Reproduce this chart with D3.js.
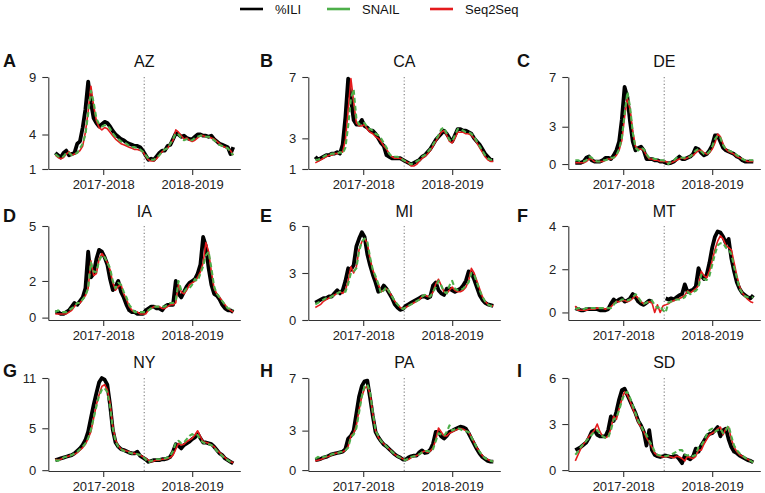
<!DOCTYPE html>
<html>
<head>
<meta charset="utf-8">
<script src="https://cdn.jsdelivr.net/npm/d3@7"></script>
<style>
  body { margin: 0; background: #fff; }
  svg { font-family: "Liberation Sans", Arial, sans-serif; }
  .tick text { font-size: 13px; fill: #222; }
  .tick line, .domain { stroke: #333; stroke-width: 1.1; }
</style>
</head>
<body>
<svg id="chart" width="765" height="493"></svg>
<script>
// states shown, panel letters and y ticks
const states = ["AZ", "CA", "DE", "IA", "MI", "MT", "NY", "PA", "SD"];
const panelLetters = ["A", "B", "C", "D", "E", "F", "G", "H", "I"];
const yTicks = [[1, 4, 9], [1, 3, 7], [0, 3, 7], [0, 2, 5], [0, 3, 6], [0, 2, 4], [0, 5, 11], [0, 3, 7], [0, 3, 6]];
const yLow = [1, 1, -0.4, -0.13, 0, -0.35, -0.1, -0.07, -0.06];
const seasonLabels = ["2017-2018", "2018-2019"];
const seasonTickPos = [17.5, 50];
const seasonSplit = 32.5;
const seriesNames = ["%ILI", "SNAIL", "Seq2Seq"];

// weekly %ILI, week 40 of 2017 onward (33 weeks per season)
const ili = [
  [2.4,2.2,2.0,2.4,2.6,2.2,2.3,2.4,3.2,3.4, 4.6,6.2,8.6,6.8,5.4,5.0,4.7,4.9,5.1,5.0,
   4.7,4.3,4.0,3.8,3.6,3.5,3.3,3.2,3.1,3.0, 3.0,2.9,2.6,2.2,1.8,1.9,1.8,2.1,2.4,2.6,
   2.6,3.0,3.1,3.6,4.1,4.0,3.8,3.9,3.7,3.6, 3.6,3.8,4.0,4.0,3.9,3.9,3.8,3.9,3.6,3.4,
   3.2,3.1,3.0,2.9,2.3,2.9],
  [1.8,1.6,1.7,1.8,1.9,1.9,2.0,2.0,2.1,2.0, 2.6,4.4,6.9,5.6,4.2,3.9,3.9,4.2,3.8,3.7,
   3.5,3.5,3.3,3.0,2.7,2.5,1.9,1.8,1.7,1.7, 1.7,1.7,1.6,1.5,1.4,1.3,1.4,1.5,1.6,1.8,
   1.9,2.1,2.3,2.6,2.9,3.1,3.3,3.5,3.3,3.0, 2.8,3.2,3.6,3.6,3.5,3.5,3.4,3.3,3.0,2.8,
   2.6,2.3,2.0,1.8,1.6,1.6],
  [0.1,0.1,0.1,0.2,0.5,0.6,0.3,0.2,0.2,0.2, 0.3,0.5,0.5,0.4,0.7,1.1,1.8,3.6,6.2,5.4,
   3.4,1.8,1.1,1.3,1.4,1.1,0.4,0.4,0.4,0.3, 0.3,0.2,0.2,0.1,0.05,0.1,0.2,0.4,0.6,0.4,
   0.4,0.5,0.6,0.8,1.3,1.2,0.9,0.7,0.8,1.1, 1.5,2.3,2.3,1.8,1.3,1.1,1.0,0.9,0.8,0.6,
   0.5,0.3,0.2,0.2,0.2,0.2],
  [0.3,0.3,0.2,0.2,0.3,0.4,0.6,0.8,0.7,0.9, 1.1,1.6,3.6,2.2,2.4,3.2,3.7,3.6,3.3,2.9,
   2.1,1.5,1.7,2.0,1.4,1.1,0.7,0.4,0.3,0.3, 0.2,0.2,0.2,0.4,0.5,0.6,0.6,0.5,0.5,0.4,
   0.6,0.7,0.7,0.7,2.0,1.3,1.1,1.4,1.7,1.9, 2.0,2.1,2.4,2.9,4.4,3.9,2.7,1.8,1.3,1.2,
   1.0,0.7,0.5,0.4,0.4,0.3],
  [1.1,1.2,1.3,1.4,1.4,1.5,1.5,1.7,1.9,1.7, 1.9,2.5,3.3,3.2,3.5,4.7,5.2,5.6,5.3,4.2,
   3.5,2.9,2.4,1.8,1.9,2.2,2.0,1.7,1.4,1.0, 0.8,0.65,0.7,0.9,1.0,1.1,1.2,1.3,1.4,1.5,
   1.5,1.4,1.5,2.2,2.4,1.9,1.7,1.6,2.0,2.0, 1.9,1.8,1.9,2.0,2.2,2.5,3.1,3.0,2.6,2.1,
   1.6,1.3,1.1,1.0,0.95,0.9],
  [0.2,0.15,0.1,0.1,0.15,0.15,0.15,0.15,0.15,0.1, 0.1,0.1,0.15,0.4,0.6,0.5,0.6,0.65,0.5,0.55,
   0.65,0.85,0.7,0.5,0.4,0.35,0.45,0.55,0.5,null, null,null,null,0.65,0.6,0.65,0.6,0.7,0.8,0.85,
   1.3,0.95,1.0,1.05,1.2,2.05,1.7,1.55,1.75,2.3, 3.0,3.5,3.75,3.7,3.5,3.2,3.4,2.5,1.9,1.4,
   1.1,0.9,0.8,0.7,0.65,0.8],
  [1.2,1.3,1.4,1.5,1.6,1.7,1.8,2.0,2.3,2.6, 3.0,3.6,4.6,6.2,7.8,9.2,10.5,11.0,10.8,10.2,
   7.8,4.8,3.3,2.8,2.5,2.4,2.25,2.1,2.0,2.0, 2.2,1.7,1.5,1.3,1.0,1.1,1.2,1.2,1.2,1.3,
   1.3,1.4,1.6,2.2,3.1,2.9,2.6,3.0,3.2,3.4, 3.7,3.9,4.4,3.8,3.3,3.3,3.2,3.1,2.8,2.4,
   2.0,1.8,1.4,1.2,1.0,0.8],
  [0.75,0.8,0.85,0.95,1.0,1.1,1.2,1.25,1.3,1.35, 1.4,1.6,2.4,2.6,3.0,4.3,5.6,6.4,6.75,6.8,
   5.5,4.1,2.9,2.5,2.2,1.95,1.8,1.6,1.4,1.2, 1.05,0.95,0.8,0.8,0.95,1.05,1.1,1.1,1.35,1.5,
   1.3,1.35,1.55,2.0,2.9,2.9,2.55,2.4,2.6,2.9, 3.0,3.1,3.2,3.3,3.25,3.15,2.8,2.4,2.0,1.6,
   1.25,1.0,0.85,0.7,0.65,0.65],
  [1.3,1.4,1.5,1.65,1.8,2.1,2.5,2.6,2.3,2.2, 2.2,2.2,2.6,3.5,3.2,3.8,4.6,5.2,5.3,4.9,
   4.5,4.1,3.7,3.2,2.9,2.5,1.6,2.6,1.3,1.0, 0.9,0.85,0.9,0.95,0.9,0.85,0.9,0.9,0.7,0.45,
   0.95,0.8,0.7,0.9,1.4,1.2,1.6,1.9,2.2,2.35, 2.4,2.6,2.8,2.2,2.6,2.7,2.0,1.5,1.2,1.1,
   0.95,0.85,0.75,0.65,0.6,0.5]
];

// SNAIL forecasts
const snail = [
  [2.3,2.1,2.0,2.1,2.4,2.4,2.2,2.3,2.4,2.8, 3.2,4.0,5.8,7.8,6.8,5.4,4.9,4.7,4.8,4.8,
   4.5,4.1,3.8,3.6,3.4,3.3,3.2,3.0,2.9,2.9, 2.8,2.7,2.5,2.2,1.9,1.8,1.8,2.0,2.2,2.5,
   2.7,2.8,3.2,3.6,4.1,4.0,3.7,3.5,3.6,3.5, 3.5,3.7,3.8,3.9,3.9,3.8,3.8,3.7,3.5,3.3,
   3.1,3.0,2.9,2.8,2.5,2.2],
  [1.6,1.6,1.7,1.8,1.9,1.9,2.0,2.0,2.0,2.1, 2.0,2.4,3.8,5.6,6.2,4.3,3.9,4.0,4.0,3.7,
   3.6,3.5,3.3,3.2,3.0,2.7,2.4,2.0,1.8,1.8, 1.8,1.7,1.6,1.5,1.4,1.3,1.4,1.5,1.6,1.8,
   1.9,2.1,2.3,2.6,2.9,3.2,3.6,3.7,3.3,2.9, 2.8,3.2,3.6,3.6,3.5,3.4,3.4,3.3,3.1,2.8,
   2.5,2.2,1.9,1.7,1.6,1.6],
  [0.3,0.3,0.2,0.2,0.3,0.6,0.5,0.3,0.2,0.2, 0.3,0.3,0.4,0.5,0.5,0.7,1.2,2.1,4.0,5.8,
   4.6,2.5,1.3,1.1,1.3,1.2,0.8,0.5,0.5,0.4, 0.4,0.3,0.3,0.2,0.0,0.2,0.3,0.5,0.5,0.5,
   0.5,0.5,0.6,0.8,1.1,1.2,1.0,0.8,0.8,1.0, 1.4,2.0,2.3,2.1,1.5,1.2,1.1,1.0,0.9,0.7,
   0.6,0.4,0.3,0.3,0.3,0.3],
  [0.3,0.4,0.3,0.3,0.3,0.4,0.5,0.6,0.8,0.8, 1.0,1.2,1.6,3.0,2.5,2.5,3.1,3.4,3.3,3.0,
   2.7,2.0,1.6,1.9,1.8,1.4,1.1,0.7,0.5,0.3, 0.3,0.3,0.3,0.3,0.4,0.5,0.6,0.6,0.6,0.6,
   0.6,0.7,0.8,0.8,0.9,2.0,1.5,1.4,1.6,1.6, 1.8,2.1,2.0,2.4,2.8,3.4,3.6,2.7,1.7,1.3,
   1.1,0.9,0.7,0.5,0.5,0.4],
  [1.0,1.1,1.2,1.3,1.4,1.4,1.5,1.6,1.7,1.8, 1.8,1.8,2.3,3.0,3.1,3.3,4.4,5.0,5.2,5.0,
   4.0,3.2,2.8,2.3,1.7,1.9,2.1,1.8,1.5,1.2, 1.0,0.8,0.7,0.8,0.9,1.0,1.1,1.2,1.3,1.5,
   1.6,1.5,1.5,1.8,2.1,2.5,2.2,1.8,1.7,2.2, 2.5,2.0,1.9,1.9,2.0,2.2,2.4,3.0,2.9,2.4,
   1.9,1.5,1.2,1.0,0.9,0.9],
  [0.15,0.2,0.2,0.15,0.2,0.2,0.2,0.2,0.2,0.2, 0.2,0.2,0.2,0.2,0.35,0.5,0.5,0.6,0.6,0.55,
   0.6,0.7,0.85,0.7,0.5,0.4,0.45,0.55,0.55,0.35, 0.2,0.3,0.1,0.0,0.45,0.5,0.55,0.6,0.6,0.65,
   0.7,0.95,0.85,0.95,1.0,1.15,1.75,1.55,1.5,1.7, 2.2,2.7,3.1,3.2,3.2,3.0,2.9,2.7,2.1,1.6,
   1.1,0.9,0.75,0.7,0.7,0.7],
  [1.2,1.1,1.3,1.5,1.6,1.7,1.8,2.0,2.2,2.5, 2.8,3.2,3.8,4.8,6.2,7.6,8.9,9.6,9.8,9.3,
   7.6,5.0,3.4,2.8,2.5,2.3,2.2,2.1,2.0,2.0, 1.9,1.8,1.6,1.3,0.9,1.1,1.2,1.3,1.3,1.3,
   1.4,1.5,1.7,2.3,3.3,3.5,3.2,3.3,3.7,4.1, 4.3,4.1,4.2,3.6,3.3,3.2,3.1,3.0,2.7,2.3,
   2.0,1.7,1.4,1.2,1.0,0.9],
  [0.85,1.0,0.9,1.0,1.05,1.1,1.2,1.25,1.3,1.35, 1.4,1.5,1.7,2.5,2.7,3.2,4.4,5.6,6.4,6.5,
   5.9,4.4,3.0,2.6,2.2,2.0,1.8,1.6,1.4,1.2, 1.05,0.95,0.85,0.75,0.9,1.0,1.05,1.1,1.2,1.35,
   1.45,1.45,1.4,1.6,2.2,2.8,2.7,2.6,2.9,3.4, 3.0,3.1,3.2,3.1,3.0,2.95,2.9,2.5,2.1,1.7,
   1.4,1.1,0.9,0.8,0.7,0.65],
  [1.0,1.2,1.5,1.7,1.9,2.1,2.3,2.5,2.6,2.4, 2.2,2.1,2.1,2.6,3.3,3.4,3.9,4.5,5.0,5.1,
   4.7,4.2,3.7,3.2,2.9,2.5,2.3,1.9,1.6,1.2, 1.0,0.95,0.9,0.9,0.95,1.0,1.1,1.2,1.3,1.3,
   1.0,0.95,1.0,0.9,1.0,1.5,1.6,1.9,2.3,2.6, 2.7,2.5,2.6,2.7,2.4,2.6,2.9,2.2,1.6,1.3,
   1.1,0.95,0.8,0.7,0.6,0.5]
];

// Seq2Seq forecasts
const seq2seq = [
  [2.2,2.0,1.9,2.0,2.3,2.5,2.2,2.3,2.4,2.6, 3.0,4.2,6.0,8.2,6.5,5.2,4.6,4.4,4.6,4.5,
   4.2,3.9,3.6,3.4,3.2,3.1,3.0,2.9,2.8,2.7, 2.7,2.6,2.5,2.1,1.8,1.7,1.7,1.9,2.2,2.5,
   2.7,2.8,3.2,3.5,4.4,4.2,3.9,3.6,3.7,3.5, 3.4,3.5,3.7,3.9,3.9,3.8,3.8,3.7,3.6,3.4,
   3.2,3.0,2.9,2.8,2.6,2.2],
  [1.4,1.5,1.6,1.7,1.8,1.9,1.9,2.0,2.0,2.1, 2.1,2.9,4.8,6.9,5.4,4.0,3.8,3.8,3.9,3.6,
   3.4,3.3,3.1,3.0,2.8,2.5,2.3,2.0,1.8,1.7, 1.7,1.7,1.6,1.5,1.4,1.2,1.2,1.3,1.5,1.7,
   1.8,2.0,2.2,2.5,2.8,3.1,3.4,3.5,3.2,2.8, 2.7,3.0,3.4,3.4,3.4,3.3,3.3,3.2,3.0,2.7,
   2.4,2.1,1.8,1.6,1.5,1.5],
  [0.1,0.1,0.1,0.1,0.2,0.4,0.4,0.2,0.2,0.2, 0.2,0.3,0.4,0.4,0.5,0.7,1.1,1.9,3.8,5.3,
   4.4,2.6,1.4,1.2,1.2,1.1,0.7,0.4,0.4,0.3, 0.3,0.2,0.2,0.2,0.1,0.1,0.2,0.3,0.4,0.5,
   0.4,0.5,0.6,0.7,0.9,1.1,1.1,0.9,0.8,0.9, 1.2,1.7,2.4,2.2,1.6,1.2,1.0,0.9,0.8,0.6,
   0.5,0.4,0.3,0.2,0.2,0.2],
  [0.2,0.2,0.2,0.2,0.2,0.3,0.4,0.6,0.8,0.8, 1.0,1.2,1.6,3.1,2.3,2.4,3.2,3.5,3.3,3.0,
   2.6,1.9,1.5,1.7,1.8,1.3,1.0,0.6,0.4,0.3, 0.3,0.2,0.2,0.2,0.4,0.5,0.6,0.6,0.6,0.5,
   0.5,0.6,0.7,0.7,0.8,1.8,1.4,1.3,1.5,1.8, 1.9,2.0,2.2,2.5,3.0,4.1,3.6,2.5,1.6,1.3,
   1.1,0.9,0.7,0.5,0.4,0.3],
  [0.8,0.9,1.0,1.2,1.3,1.4,1.5,1.6,1.7,1.8, 1.7,1.9,2.5,3.4,3.0,3.4,4.5,5.0,5.2,4.9,
   3.9,3.2,2.7,2.3,1.8,1.9,2.0,1.8,1.5,1.2, 1.0,0.8,0.7,0.8,0.9,1.0,1.1,1.2,1.3,1.5,
   1.6,1.5,1.5,1.8,2.3,2.6,2.2,1.8,1.7,1.9, 2.1,1.9,1.8,1.8,1.9,2.1,2.5,3.3,3.0,2.5,
   2.0,1.5,1.2,1.0,0.9,0.9],
  [0.3,0.1,0.1,0.1,0.1,0.15,0.15,0.15,0.2,0.2, 0.2,0.15,0.2,0.25,0.4,0.5,0.5,0.55,0.55,0.5,
   0.55,0.65,0.8,0.65,0.5,0.4,0.45,0.5,0.45,0.0, 0.35,0.0,0.3,0.35,0.4,0.5,0.55,0.6,0.65,0.7,
   0.8,1.0,0.9,1.0,1.1,1.25,1.9,1.7,1.6,1.9, 2.4,2.9,3.3,3.55,3.4,3.1,3.0,2.9,2.3,1.7,
   1.2,0.9,0.75,0.6,0.5,0.45],
  [1.3,1.2,1.3,1.5,1.6,1.7,1.8,1.9,2.1,2.4, 2.7,3.1,3.8,4.6,6.2,7.8,9.0,10.0,10.2,9.6,
   8.0,5.2,3.6,2.9,2.5,2.4,2.3,2.2,2.0,2.0, 1.9,1.8,1.6,1.4,1.2,1.0,1.1,1.2,1.2,1.3,
   1.3,1.4,1.5,1.8,2.5,3.2,3.0,3.1,3.4,3.6, 3.8,4.2,4.7,4.0,3.4,3.3,3.2,3.0,2.8,2.4,
   2.1,1.8,1.5,1.2,1.0,0.9],
  [0.7,0.75,0.8,0.9,1.0,1.05,1.15,1.25,1.3,1.35, 1.4,1.5,1.8,2.6,2.8,3.4,4.6,5.6,6.2,6.4,
   5.8,4.3,3.0,2.5,2.2,2.0,1.8,1.6,1.4,1.2, 1.05,0.95,0.85,0.75,0.8,0.95,1.05,1.1,1.2,1.35,
   1.45,1.35,1.45,1.7,2.3,3.2,2.9,2.6,2.6,2.8, 2.9,3.0,3.1,3.15,3.1,3.0,2.9,2.5,2.1,1.7,
   1.4,1.1,0.9,0.8,0.7,0.65],
  [0.6,1.0,1.4,1.7,1.9,2.2,2.4,2.6,3.0,2.5, 2.2,2.1,2.2,2.7,3.5,3.3,4.0,4.6,5.1,4.9,
   4.5,4.0,3.6,3.1,2.8,2.5,2.1,1.8,1.5,1.1, 0.95,0.9,0.85,0.85,0.9,0.85,0.8,0.9,0.85,0.75,
   0.6,0.9,0.8,0.75,0.9,1.3,1.3,1.7,2.0,2.3, 2.4,2.5,2.7,2.8,2.3,2.7,2.8,2.0,1.5,1.2,
   1.0,0.9,0.8,0.7,0.6,0.5]
];

const svg = d3.select("#chart");

// layout of the 3x3 grid
const colX = [48.3, 308.3, 568.3];
const rowTop = [77, 226, 378];
const rowBottom = [169, 320, 471];
const letterY = [67, 222, 377];
const titleY = [66.5, 216.5, 368];
const plotW = 192;

const series = [
  { name: seriesNames[0], data: ili, color: "#000", width: 3.8, dash: null },
  { name: seriesNames[2], data: seq2seq, color: "#e41a1c", width: 1.6, dash: null },
  { name: seriesNames[1], data: snail, color: "#4daf4a", width: 2.1, dash: "5,3" }
];

states.forEach(function(st, i) {
  const col = i % 3, row = Math.floor(i / 3);
  const x0 = colX[col], top = rowTop[row], bottom = rowBottom[row];
  const x = d3.scaleLinear().domain([-2.56, 67.57]).range([x0, x0 + plotW]);
  const y = d3.scaleLinear().domain([yLow[i], yTicks[i][2]]).range([bottom, top]);
  const g = svg.append("g");

  // season divider
  g.append("line")
    .attr("x1", x(seasonSplit)).attr("x2", x(seasonSplit))
    .attr("y1", top).attr("y2", bottom)
    .attr("stroke", "#999").attr("stroke-width", 1.4)
    .attr("stroke-dasharray", "1.2,2.2");

  const line = d3.line()
    .defined(d => d != null)
    .x((d, k) => x(k))
    .y(d => y(d));

  series.forEach(function(s) {
    g.append("path")
      .datum(s.data[i])
      .attr("d", line)
      .attr("fill", "none")
      .attr("stroke", s.color)
      .attr("stroke-width", s.width)
      .attr("stroke-linejoin", "round")
      .attr("stroke-dasharray", s.dash);
  });

  g.append("g")
    .attr("transform", `translate(0,${bottom})`)
    .call(d3.axisBottom(x).tickValues(seasonTickPos)
      .tickFormat((d, k) => seasonLabels[k])
      .tickSize(6).tickSizeOuter(0).tickPadding(5))
    .attr("font-size", null).attr("font-family", null);

  g.append("g")
    .attr("transform", `translate(${x0},0)`)
    .call(d3.axisLeft(y).tickValues(yTicks[i])
      .tickFormat(d3.format("d"))
      .tickSize(6).tickSizeOuter(0).tickPadding(6))
    .attr("font-size", null).attr("font-family", null);

  g.append("text")
    .attr("x", x0 + plotW / 2).attr("y", titleY[row])
    .attr("text-anchor", "middle")
    .attr("font-size", 16).attr("fill", "#111")
    .text(st);

  g.append("text")
    .attr("x", [3, 260, 517][col]).attr("y", letterY[row])
    .attr("font-size", 18).attr("font-weight", "bold").attr("fill", "#111")
    .text(panelLetters[i]);
});

// legend
const legendItems = [
  { name: seriesNames[0], color: "#000" },
  { name: seriesNames[1], color: "#4daf4a" },
  { name: seriesNames[2], color: "#e41a1c" }
];
const legendX = [240, 327, 430];
const legend = svg.append("g");
legendItems.forEach(function(d, k) {
  legend.append("line")
    .attr("x1", legendX[k]).attr("x2", legendX[k] + 23)
    .attr("y1", 9).attr("y2", 9)
    .attr("stroke", d.color).attr("stroke-width", 2.6);
  legend.append("text")
    .attr("x", legendX[k] + 35).attr("y", 13.5)
    .attr("font-size", 13).attr("fill", "#111")
    .text(d.name);
});
</script>
</body>
</html>
